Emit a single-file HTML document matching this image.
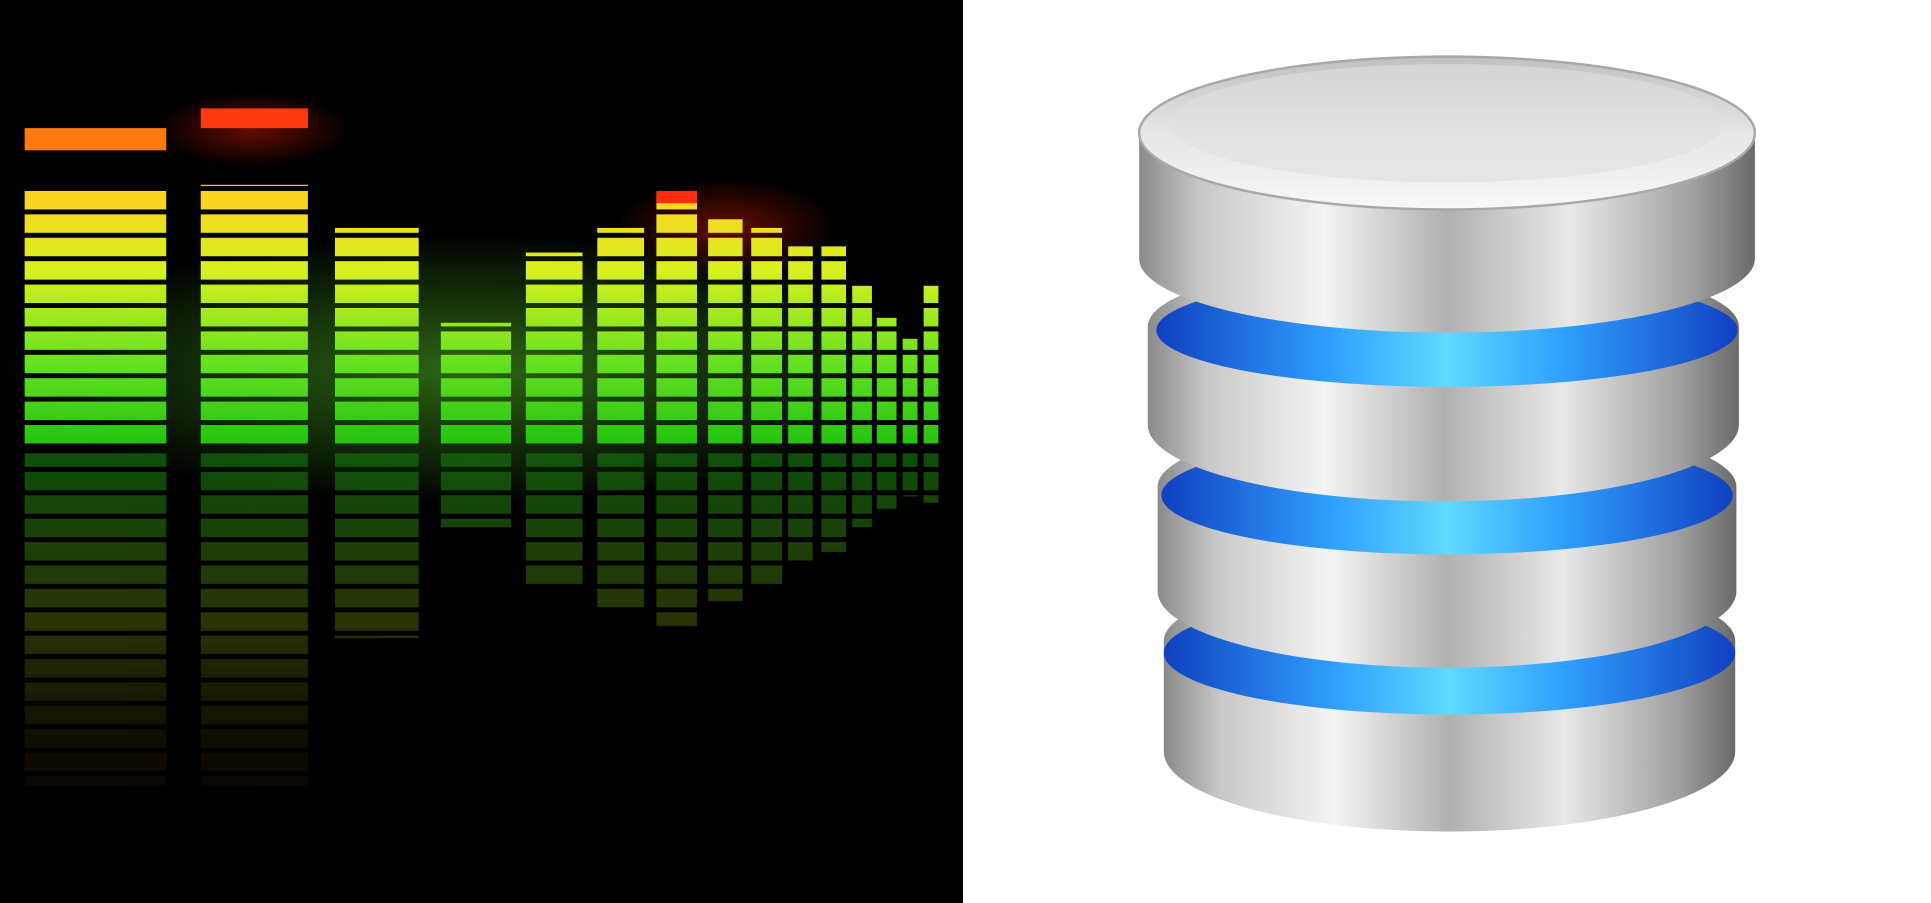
<!DOCTYPE html>
<html><head><meta charset="utf-8"><style>
html,body{margin:0;padding:0;background:#fff;width:1931px;height:903px;overflow:hidden}
svg{display:block}
</style></head><body>
<svg width="1931" height="903" viewBox="0 0 1568 733" preserveAspectRatio="none" xmlns="http://www.w3.org/2000/svg">
<defs>
<linearGradient id="eqg" gradientUnits="userSpaceOnUse" x1="0" y1="100" x2="0" y2="365">
<stop offset="0" stop-color="#ff7a10"/><stop offset="0.2" stop-color="#ffd020"/>
<stop offset="0.45" stop-color="#d8f020"/><stop offset="0.75" stop-color="#60e020"/><stop offset="1" stop-color="#20c010"/>
</linearGradient>
<linearGradient id="refg" gradientUnits="userSpaceOnUse" x1="0" y1="365" x2="0" y2="650">
<stop offset="0" stop-color="#137010"/><stop offset="0.5" stop-color="#3a4a08"/><stop offset="1" stop-color="#2a1205" stop-opacity="0.3"/>
</linearGradient>
<pattern id="stripes" width="10" height="19" patternUnits="userSpaceOnUse" y="3">
<rect width="10" height="15" fill="#fff"/>
</pattern>
<mask id="m"><rect width="800" height="733" fill="url(#stripes)"/></mask>
<radialGradient id="glow" cx="0.5" cy="0.5" r="0.5"><stop offset="0" stop-color="#70ff30" stop-opacity="0.4"/><stop offset="1" stop-color="#70ff30" stop-opacity="0"/></radialGradient>
<radialGradient id="rglow" cx="0.5" cy="0.5" r="0.5"><stop offset="0" stop-color="#ff2000" stop-opacity="0.4"/><stop offset="1" stop-color="#ff2000" stop-opacity="0"/></radialGradient>
<linearGradient id="silver" x1="0" y1="0" x2="1" y2="0">
<stop offset="0" stop-color="#8a8a8a"/><stop offset="0.1" stop-color="#c8c8c8"/><stop offset="0.3" stop-color="#f4f4f4"/>
<stop offset="0.5" stop-color="#b0b0b0"/><stop offset="0.7" stop-color="#e8e8e8"/><stop offset="0.9" stop-color="#a0a0a0"/><stop offset="1" stop-color="#6a6a6a"/>
</linearGradient>
<linearGradient id="topg" x1="0" y1="0" x2="0" y2="1">
<stop offset="0" stop-color="#c0c0c0"/><stop offset="0.5" stop-color="#e6e6e6"/><stop offset="1" stop-color="#f8f8f8"/>
</linearGradient>
<linearGradient id="blue" x1="0" y1="0" x2="1" y2="0">
<stop offset="0" stop-color="#1040c0"/><stop offset="0.3" stop-color="#30a0ff"/><stop offset="0.5" stop-color="#60d8ff"/><stop offset="0.7" stop-color="#30a0ff"/><stop offset="1" stop-color="#1040c0"/>
</linearGradient>
</defs>
<rect x="0" y="0" width="782" height="733" fill="#000"/>
<ellipse cx="380" cy="300" rx="380" ry="110" fill="url(#glow)"/>
<ellipse cx="590" cy="185" rx="90" ry="40" fill="url(#rglow)"/>
<ellipse cx="205" cy="105" rx="80" ry="30" fill="url(#rglow)"/>
<g mask="url(#m)">
<g fill="url(#eqg)">
<rect x="20" y="152" width="115" height="210"/>
<rect x="163" y="150" width="87" height="212"/>
<rect x="272" y="185" width="68" height="177"/>
<rect x="358" y="262" width="57" height="100"/>
<rect x="427" y="205" width="46" height="157"/>
<rect x="485" y="185" width="38" height="177"/>
<rect x="533" y="157" width="33" height="205"/>
<rect x="575" y="178" width="28" height="184"/>
<rect x="610" y="185" width="25" height="177"/>
<rect x="640" y="200" width="20" height="162"/>
<rect x="667" y="200" width="20" height="162"/>
<rect x="692" y="232" width="16" height="130"/>
<rect x="712" y="258" width="16" height="104"/>
<rect x="733" y="275" width="12" height="87"/>
<rect x="750" y="232" width="12" height="130"/>
</g>
<g fill="url(#refg)" opacity="0.7">
<rect x="20" y="368" width="115" height="270"/>
<rect x="163" y="368" width="87" height="270"/>
<rect x="272" y="368" width="68" height="150"/>
<rect x="358" y="368" width="57" height="60"/>
<rect x="427" y="368" width="46" height="110"/>
<rect x="485" y="368" width="38" height="125"/>
<rect x="533" y="368" width="33" height="140"/>
<rect x="575" y="368" width="28" height="120"/>
<rect x="610" y="368" width="25" height="110"/>
<rect x="640" y="368" width="20" height="90"/>
<rect x="667" y="368" width="20" height="80"/>
<rect x="692" y="368" width="16" height="60"/>
<rect x="712" y="368" width="16" height="45"/>
<rect x="733" y="368" width="12" height="35"/>
<rect x="750" y="368" width="12" height="40"/>
</g>
</g>
<rect x="20" y="104" width="115" height="18" fill="#ff7a10"/>
<rect x="163" y="88" width="87" height="16" fill="#ff3a10"/>
<rect x="533" y="155" width="33" height="10" fill="#ff2a10"/>
<g>
<path d="M945 520 A232 55 0 0 1 1409 520 L1409 610 A232 65 0 0 1 945 610 Z" fill="url(#silver)"/>
<ellipse cx="1177" cy="530" rx="232" ry="50" fill="url(#blue)"/>
<path d="M940 395 A235 55 0 0 1 1410 395 L1410 480 A235 62 0 0 1 940 480 Z" fill="url(#silver)"/>
<ellipse cx="1175" cy="402" rx="232" ry="48" fill="url(#blue)"/>
<path d="M932 265 A240 55 0 0 1 1412 265 L1412 345 A240 62 0 0 1 932 345 Z" fill="url(#silver)"/>
<ellipse cx="1175" cy="268" rx="236" ry="46" fill="url(#blue)"/>
<path d="M925 110 L925 210 A250 60 0 0 0 1425 210 L1425 110 Z" fill="url(#silver)"/>
<ellipse cx="1175" cy="108" rx="250" ry="62" fill="url(#topg)" stroke="#a8a8a8" stroke-width="2"/>
<ellipse cx="1175" cy="100" rx="225" ry="48" fill="#e0e0e0" opacity="0.6"/>
</g>
</svg>
</body></html>
